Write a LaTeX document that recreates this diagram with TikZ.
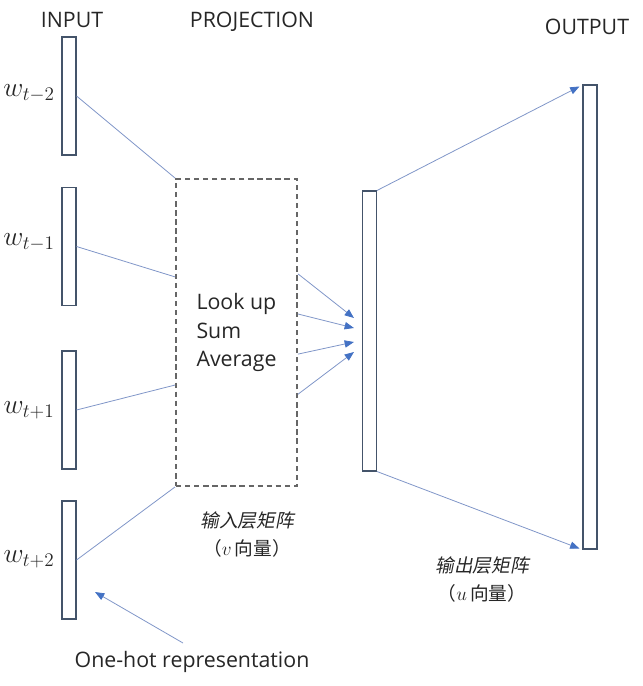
\documentclass[tikz,border=0pt]{standalone}
\usepackage{fontspec}
\setmainfont{Open Sans}
\newfontfamily\cjk{Noto Sans CJK SC}
\newfontfamily\cjkit[FakeSlant=0.2]{Noto Sans CJK SC}
\usetikzlibrary{arrows.meta,calc}
\definecolor{vecline}{HTML}{44546A}
\definecolor{linkblue}{HTML}{8096C8}
\definecolor{tipblue}{HTML}{4472C4}
\definecolor{dashgray}{HTML}{666666}
\tikzstyle{every node}=[font=\fontsize{16}{19}\selectfont, text=black!85]

\begin{document}
\begin{tikzpicture}[
            x=0.75pt, y=-0.75pt,
            vec/.style={draw=vecline, line width=0.8pt, inner sep=0pt, minimum width=10.5pt},
            word/.style={font=\fontsize{20}{22}\selectfont},
            cn/.style={font=\fontsize{14}{21}\selectfont, align=center},
            link/.style={draw=linkblue, line width=0.6pt},
            feed/.style={link, -{Triangle[length=7pt, width=5.5pt, color=tipblue]}}]
        \useasboundingbox (0,0) rectangle (643,686);
        % titles
        \node (tin)  at (72,20)  {INPUT};
        \node (tpro) at (252,22) {PROJECTION};
        \node (tout) at (587,27) {OUTPUT};
        % input vectors
        \node[vec, minimum height=88.5pt] (in1) at (69,96)    {};
        \node[vec, minimum height=88.5pt] (in2) at (69,246.5) {};
        \node[vec, minimum height=88.5pt] (in3) at (69,410)   {};
        \node[vec, minimum height=88.5pt] (in4) at (69,560)   {};
        \node[word] (w1) at (29,93)  {$w_{t-2}$};
        \node[word] (w2) at (29,242) {$w_{t-1}$};
        \node[word] (w3) at (29,410) {$w_{t+1}$};
        \node[word] (w4) at (29,559) {$w_{t+2}$};
        % projection
        \node[draw=dashgray, line width=1.4pt, dash pattern=on 4pt off 2.8pt,
              minimum width=90.75pt, minimum height=230.25pt,
              align=left, font=\fontsize{16}{21.4}\selectfont] (proj) at (236.5,332.5)
              {Look up\\Sum\\Average};
        \node[vec, minimum height=210pt] (hid) at (369.5,331) {};
        \node[vec, minimum height=348pt] (out) at (590,317)   {};
        % links
        \draw[link] (in1.east) -- (proj.north west);
        \draw[link] (in2.east) -- ($(proj.north west)!0.32!(proj.south west)$);
        \draw[link] (in3.east) -- ($(proj.north west)!0.67!(proj.south west)$);
        \draw[link] (in4.east) -- (proj.south west);
        \foreach \f/\d in {0.31/-13, 0.44/-3, 0.57/11, 0.70/21}
            \draw[feed] ($(proj.north east)!\f!(proj.south east)$) -- ($(hid.west)+(-8,\d)$);
        \draw[feed] (hid.north east) -- ($(out.north west)+(-3,2)$);
        \draw[feed] (hid.south east) -- ($(out.south west)+(-3,-1)$);
        % matrix labels
        \node[cn] (vlab) at (247,535) {{\cjkit 输入层矩阵}\\{\cjk （}$v$\,{\cjk 向量）}};
        \node[cn] (ulab) at (482,580) {{\cjkit 输出层矩阵}\\{\cjk （}$u$\,{\cjk 向量）}};
        % one-hot
        \node (onehot) at (192,662) {One-hot representation};
        \coordinate (hotstart) at (183,643);
        \coordinate (hotend) at (95,592);
        \draw[feed] (hotstart) -- (hotend);
    \end{tikzpicture}
\end{document}
